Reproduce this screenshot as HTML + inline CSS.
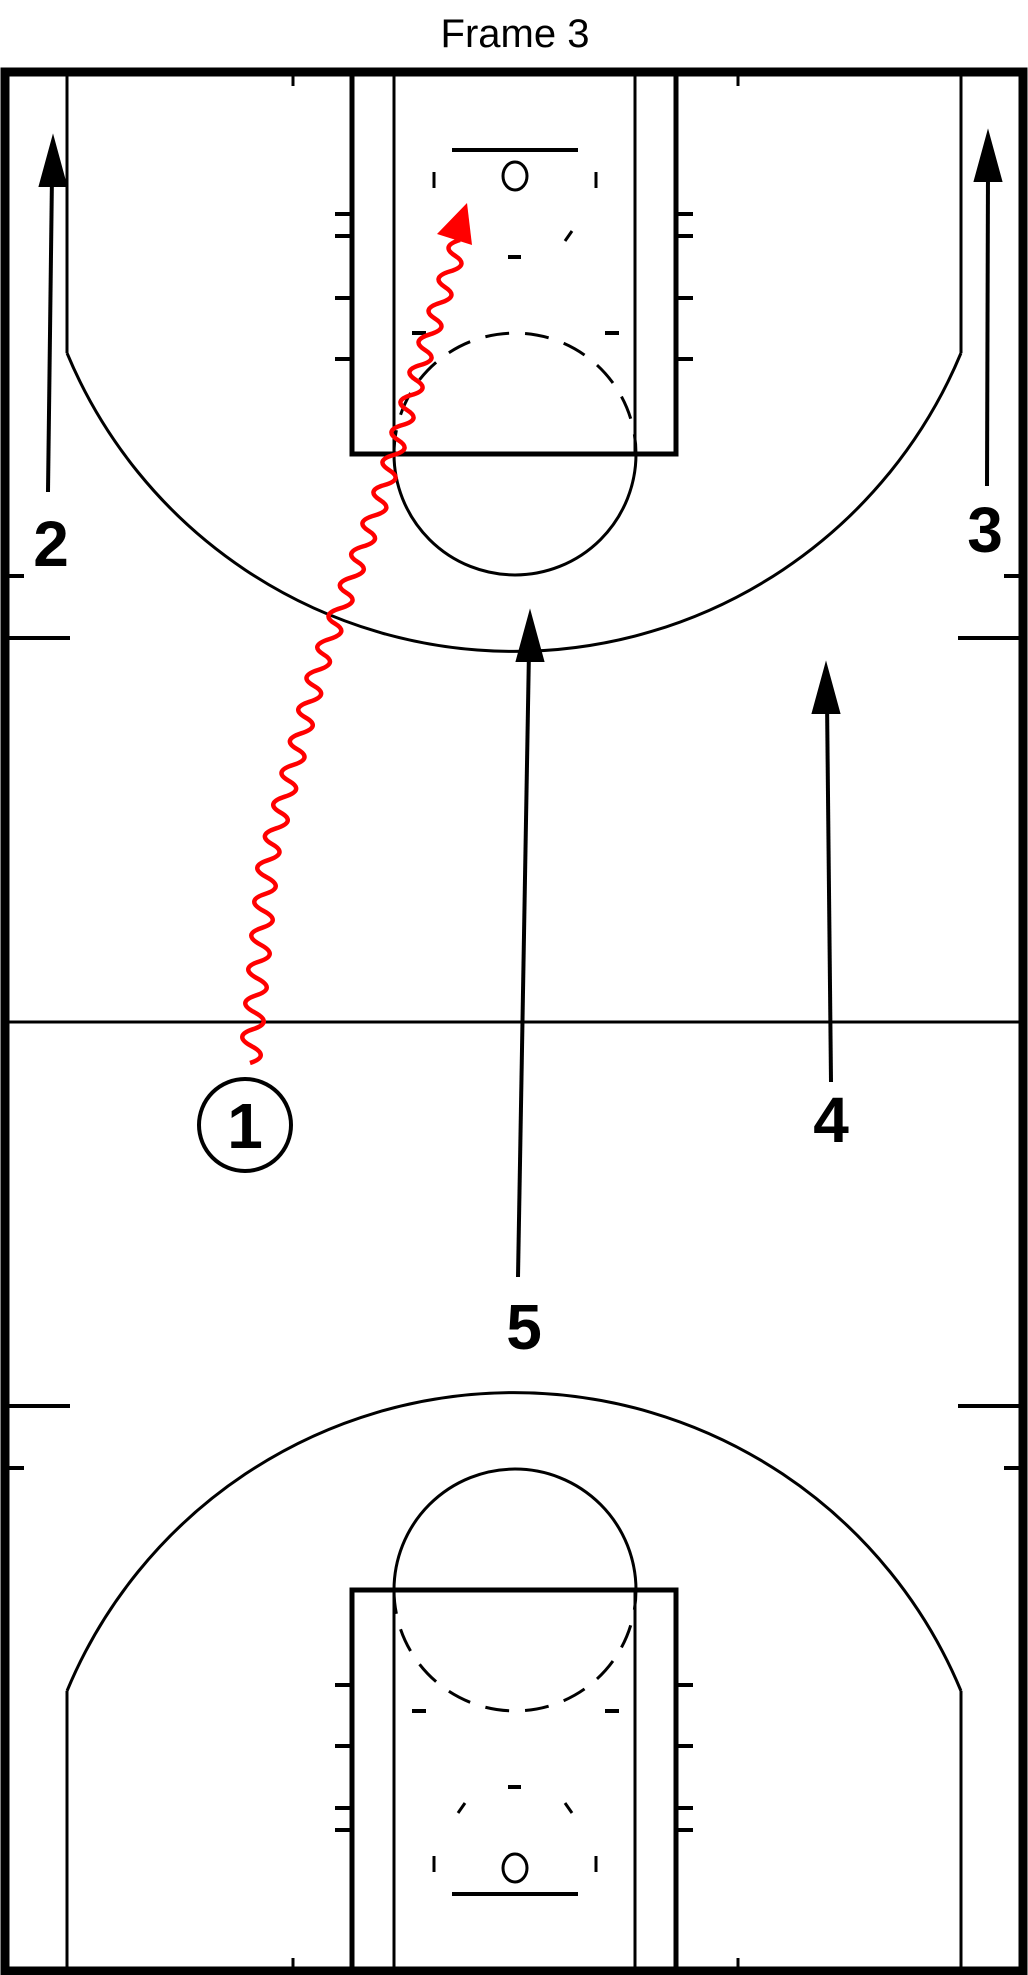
<!DOCTYPE html>
<html><head><meta charset="utf-8"><style>
html,body{margin:0;padding:0;background:#fff;}
svg{display:block;}
text{font-family:"Liberation Sans",sans-serif;}
</style></head><body>
<svg width="1028" height="1975" viewBox="0 0 1028 1975" xmlns="http://www.w3.org/2000/svg">
<rect width="1028" height="1975" fill="#fff"/>
<text x="515" y="47" font-size="40" text-anchor="middle">Frame 3</text>
<g id="half" fill="none" stroke="#000" stroke-width="3">
  <line x1="67" y1="72" x2="67" y2="353"/>
  <line x1="961" y1="72" x2="961" y2="353"/>
  <path d="M67,353 A484,484 0 0 0 961,353"/>
  <rect x="352" y="72" width="324" height="382" stroke-width="5"/>
  <line x1="394" y1="72" x2="394" y2="454"/>
  <line x1="635" y1="72" x2="635" y2="454"/>
  <path d="M394,454 A121,121 0 0 0 636,454"/>
  <path d="M394,454 A121,121 0 0 1 636,454" stroke-dasharray="24,16"/>
  <line x1="452" y1="150" x2="578" y2="150" stroke-width="4"/>
  <ellipse cx="515" cy="176" rx="12" ry="14"/>
  <line x1="434" y1="172" x2="434" y2="188"/>
  <line x1="596" y1="172" x2="596" y2="188"/>
  <line x1="572" y1="231" x2="565" y2="241"/>
  <line x1="458" y1="231" x2="465" y2="241"/>
  <line x1="508" y1="257" x2="521" y2="257" stroke-width="4"/>
  <line x1="412" y1="333" x2="426" y2="333" stroke-width="4"/>
  <line x1="605" y1="333" x2="619" y2="333" stroke-width="4"/>
  <line x1="335" y1="214" x2="352" y2="214" stroke-width="4"/>
  <line x1="335" y1="236" x2="352" y2="236" stroke-width="4"/>
  <line x1="335" y1="298" x2="352" y2="298" stroke-width="4"/>
  <line x1="335" y1="359" x2="352" y2="359" stroke-width="4"/>
  <line x1="676" y1="214" x2="693" y2="214" stroke-width="4"/>
  <line x1="676" y1="236" x2="693" y2="236" stroke-width="4"/>
  <line x1="676" y1="298" x2="693" y2="298" stroke-width="4"/>
  <line x1="676" y1="359" x2="693" y2="359" stroke-width="4"/>
  <line x1="293" y1="72" x2="293" y2="86"/>
  <line x1="738" y1="72" x2="738" y2="86"/>
  <line x1="5" y1="576" x2="24" y2="576" stroke-width="4"/>
  <line x1="5" y1="638" x2="70" y2="638" stroke-width="4"/>
  <line x1="1004" y1="576" x2="1023" y2="576" stroke-width="4"/>
  <line x1="958" y1="638" x2="1023" y2="638" stroke-width="4"/>
</g>
<use href="#half" transform="translate(0,2044) scale(1,-1)"/>
<line x1="5" y1="1022" x2="1023" y2="1022" stroke="#000" stroke-width="3"/>
<rect x="5" y="72" width="1018" height="1899" fill="none" stroke="#000" stroke-width="9"/>
<g stroke="#000" stroke-width="4" fill="#000">
  <line x1="48" y1="492" x2="52" y2="175"/>
  <polygon points="53,141 41,185 65,185"/>
  <line x1="987" y1="486" x2="988" y2="170"/>
  <polygon points="988,136 976,180 1000,180"/>
  <line x1="831" y1="1082" x2="827" y2="700"/>
  <polygon points="826,668 814,712 838,712"/>
  <line x1="518" y1="1277" x2="529" y2="650"/>
  <polygon points="530,616 518,660 542,660"/>
</g>
<g font-weight="bold" font-size="64" text-anchor="middle" fill="#000">
  <text x="51" y="566">2</text>
  <text x="985" y="552">3</text>
  <text x="831" y="1142">4</text>
  <text x="524" y="1349">5</text>
  <text x="245" y="1148">1</text>
</g>
<circle cx="245" cy="1125" r="46" fill="none" stroke="#000" stroke-width="4"/>
<path fill="none" stroke="#f00" stroke-width="4.5" d="M250,1063 Q270.7,1056.3 251.5,1046.1 T253,1029.2 T254.5,1012.3 T256,995.4 T257.5,978.5 T259,961.6 T260.5,944.7 T262,927.8 T263.5,910.9 T265,894 T266.5,877.1 T268,860.2 T272.2,844.2 T276.3,828.3 T280.5,812.5 T284.7,796.7 T288.8,780.8 T293,765 T297.2,749.2 T301.3,733.3 T305.5,717.5 T309.7,701.7 T313.8,685.8 T318,670 T323.6,654.5 T329.3,639.1 T334.9,623.6 T340.5,608.2 T346.2,592.7 T351.8,577.3 T357.5,561.8 T363.1,546.4 T368.7,530.9 T374.4,515.5 T380,500 T384.5,485 T389,470 T393.5,455 T398,440 T402.5,425 T407,410 T411.5,395 T416,380 T420.5,365 T425,350 T430,334.3 T435,318.6 T440,302.9 T445,287.1 T450,271.4 T455,255.7 T460,240"/>
<polygon fill="#f00" points="467,203 437,234 472,245"/>
</svg>
</body></html>
